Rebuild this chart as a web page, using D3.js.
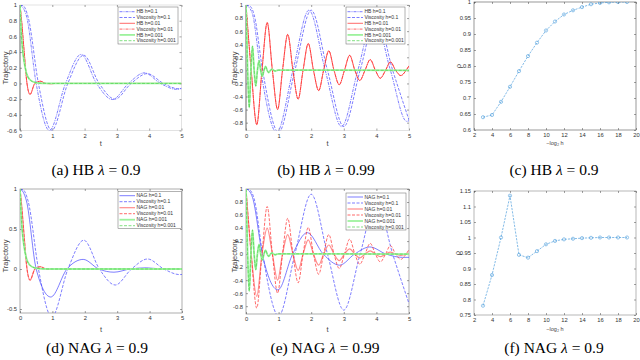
<!DOCTYPE html>
<meta charset="utf-8">
<style>
body { margin: 0; background: #fff; }
.axis text { font: 5.8px "Liberation Sans", Arial, sans-serif; fill: #333; }
.axis-title { font: 7.5px "Liberation Sans", Arial, sans-serif; fill: #444; }
.axis-title.small { font-size: 5.5px; }
.legend-text { font: 5px "Liberation Sans", Arial, sans-serif; fill: #333; }
.caption { font: 15.5px "Liberation Serif", "DejaVu Serif", serif; fill: #000; }
</style>
<body>
<svg id="fig" width="640" height="360"></svg>
<script src="https://cdn.jsdelivr.net/npm/d3@7"></script>
<script>

// ---- data: [t, trajectory] key points ----
var hb09_h1   = [[0,1],[0.1,0.96],[0.2,0.86],[0.5,0],[0.91,-0.6],[1.41,0],[1.89,0.37],[2.37,0],[2.86,-0.205],[3.36,0],[3.85,0.135],[4.35,0],[4.84,-0.075],[5,-0.06]];
var visc09_h1 = [[0,1],[0.1,0.99],[0.25,0.85],[0.57,0],[0.98,-0.6],[1.48,0],[1.97,0.36],[2.45,0],[2.94,-0.2],[3.44,0],[3.94,0.125],[4.44,0],[4.93,-0.07],[5,-0.068]];
var nag09_h1  = [[0,1],[0.1,0.96],[0.2,0.85],[0.5,0],[0.95,-0.35],[1.45,0],[1.95,0.12],[2.43,0],[2.9,-0.04],[3.4,0],[3.9,0.015],[4.4,0],[5,0]];
var visc09_h2 = [[0,1],[0.05,0.8],[0.1,0.55],[0.15,0.3],[0.21,0.02],[0.31,-0.14],[0.46,0],[0.63,0.028],[0.8,0],[0.95,-0.004],[1.1,0],[5,0]];
var visc09_h3 = [[0,1],[0.02,0.8],[0.05,0.58],[0.08,0.43],[0.12,0.3],[0.2,0.13],[0.3,0.05],[0.45,0.015],[0.7,0.002],[1,0],[5,0]];

var hb99_h1   = [[0,1],[0.1,0.96],[0.2,0.86],[0.45,0],[0.94,-0.95],[1.44,0],[1.93,0.92],[2.43,0],[2.93,-0.86],[3.43,0],[3.93,0.83],[4.43,0],[4.93,-0.78],[5,-0.77]];
var visc99_h1 = [[0,1],[0.1,0.99],[0.25,0.85],[0.51,0],[1.0,-0.95],[1.5,0],[2.0,0.92],[2.5,0],[3.0,-0.86],[3.5,0],[4.0,0.82],[4.5,0],[5,-0.76]];
var nag99_h1  = [[0,1],[0.1,0.97],[0.2,0.87],[0.5,0],[0.98,-0.55],[1.43,0],[1.88,0.33],[2.37,0],[2.87,-0.17],[3.33,0],[3.8,0.11],[4.3,0],[4.8,-0.05],[5,-0.05]];
var visc99_h2 = [[0,1],[0.16,0],[0.33,-0.83],[0.49,0],[0.65,0.73],[0.81,0],[0.97,-0.6],[1.12,0],[1.28,0.55],[1.44,0],[1.6,-0.44],[1.75,0],[1.91,0.41],[2.07,0],[2.23,-0.31],[2.38,0],[2.54,0.3],[2.7,0],[2.86,-0.22],[3.02,0],[3.18,0.23],[3.34,0],[3.49,-0.155],[3.65,0],[3.81,0.165],[3.97,0],[4.12,-0.12],[4.28,0],[4.43,0.13],[4.59,0],[4.75,-0.08],[4.91,0],[5,0.07]];
var nag99_h2  = [[0,1],[0.16,0],[0.33,-0.65],[0.49,0],[0.65,0.4],[0.81,0],[0.97,-0.4],[1.12,0],[1.28,0.3],[1.44,0],[1.6,-0.25],[1.75,0],[1.91,0.22],[2.07,0],[2.23,-0.17],[2.38,0],[2.54,0.14],[2.7,0],[2.86,-0.1],[3.02,0],[3.18,0.08],[3.34,0],[3.49,-0.06],[3.65,0],[3.81,0.05],[3.97,0],[4.12,-0.04],[4.28,0],[4.43,0.03],[4.59,0],[4.75,-0.02],[4.91,0],[5,0.01]];
var visc99_h3 = [[0,1],[0.05,0],[0.1,-0.57],[0.15,0],[0.2,0.37],[0.25,0],[0.3,-0.24],[0.35,0],[0.4,0.15],[0.45,0],[0.5,-0.09],[0.55,0],[0.6,0.06],[0.65,0],[0.7,-0.035],[0.75,0],[0.8,0.02],[0.85,0],[0.9,-0.01],[0.95,0],[1.0,0.004],[5,0]];

// rate vs -log2 h
var hExp   = [3,4,5,6,7,8,9,10,11,12,13,14,15,16,17,18,19];
var rhoHB  = [0.64,0.647,0.688,0.735,0.784,0.831,0.873,0.911,0.939,0.961,0.974,0.984,0.993,0.997,0.999,1.0,1.0];
var rhoNAG = [0.78,0.879,1.0,1.135,0.944,0.935,0.956,0.978,0.989,0.994,0.996,0.998,0.999,1.0,1.0,1.0,1.0];

// ticks and labels
var tTicks    = [0,1,2,3,4,5];
var yTicksA   = [-0.6,-0.4,-0.2,0,0.2,0.4,0.6,0.8,1];
var yTicksB   = [-0.8,-0.6,-0.4,-0.2,0,0.2,0.4,0.6,0.8,1];
var yTicksD   = [-0.5,0,0.5,1];
var hTicks    = [2,4,6,8,10,12,14,16,18,20];
var rhoTicksC = [0.6,0.65,0.7,0.75,0.8,0.85,0.9,0.95,1];
var rhoTicksF = [0.75,0.8,0.85,0.9,0.95,1,1.05,1.1,1.15];
var legendHB  = ["HB h=0.1","Viscosity h=0.1","HB h=0.01","Viscosity h=0.01","HB h=0.001","Viscosity h=0.001"];
var legendNAG = ["NAG h=0.1","Viscosity h=0.1","NAG h=0.01","Viscosity h=0.01","NAG h=0.001","Viscosity h=0.001"];
var captions  = [["(a) HB ", " = 0.9"],["(b) HB ", " = 0.99"],["(c) HB ", " = 0.9"],
                 ["(d) NAG ", " = 0.9"],["(e) NAG ", " = 0.99"],["(f) NAG ", " = 0.9"]];

var svg = d3.select("#fig");
var fmt = function(v) { return String(Math.round(v * 100) / 100); };

var BLUE = "#4646ff", RED = "#ff2a2a", GREEN = "#4fd24f", LGREEN = "#9df29d", PINK = "#ff8c8c", RHO = "#4d9ddc";

function drawPanel(p) {
  var g = svg.append("g");
  var x = d3.scaleLinear().domain(p.xDomain).range([p.left, p.right]);
  var y = d3.scaleLinear().domain(p.yDomain).range([p.bottom, p.top]);

  svg.append("clipPath").attr("id", "clip" + p.name)
    .append("rect")
    .attr("x", p.left).attr("y", p.top)
    .attr("width", p.right - p.left).attr("height", p.bottom - p.top);

  g.append("rect")
    .attr("x", p.left).attr("y", p.top)
    .attr("width", p.right - p.left).attr("height", p.bottom - p.top)
    .attr("fill", "none").attr("stroke", p.boxColor).attr("stroke-width", 0.6);
  if (p.leftLine) {
    g.append("line").attr("x1", p.left).attr("x2", p.left).attr("y1", p.top).attr("y2", p.bottom)
      .attr("stroke", "#555").attr("stroke-width", 0.8);
  }

  function style(sel) {
    sel.select(".domain").remove();
    sel.attr("class", "axis").attr("font-size", null).attr("font-family", null);
    sel.selectAll(".tick line").attr("stroke", "#444").attr("stroke-width", 0.5);
  }
  g.append("g").attr("transform", "translate(0," + p.bottom + ")")
    .call(d3.axisBottom(x).tickValues(p.xTicks).tickFormat(fmt).tickSizeInner(-2).tickSizeOuter(0).tickPadding(3.2))
    .call(style);
  g.append("g").attr("transform", "translate(0," + p.top + ")")
    .call(d3.axisTop(x).tickValues(p.xTicks).tickFormat(function() { return ""; }).tickSizeInner(-2).tickSizeOuter(0))
    .call(style);
  g.append("g").attr("transform", "translate(" + p.left + ",0)")
    .call(d3.axisLeft(y).tickValues(p.yTicks).tickFormat(fmt).tickSizeInner(-2).tickSizeOuter(0).tickPadding(3))
    .call(style);
  g.append("g").attr("transform", "translate(" + p.right + ",0)")
    .call(d3.axisRight(y).tickValues(p.yTicks).tickFormat(function() { return ""; }).tickSizeInner(-2).tickSizeOuter(0))
    .call(style);

  var plot = g.append("g").attr("clip-path", "url(#clip" + p.name + ")");

  if (p.series) {
    var line = d3.line()
      .x(function(d) { return x(d[0]); })
      .y(function(d) { return y(d[1]); })
      .curve(d3.curveMonotoneX);
    p.series.forEach(function(s) {
      plot.append("path")
        .datum(s.data)
        .attr("d", line)
        .attr("fill", "none")
        .attr("stroke", s.color)
        .attr("stroke-width", s.width)
        .attr("stroke-dasharray", s.dash || null)
        .attr("stroke-linejoin", "round");
    });
  }

  if (p.rates) {
    var pts = hExp.map(function(h, i) { return [h, p.rates[i]]; });
    plot.append("path")
      .datum(pts)
      .attr("d", d3.line().x(function(d) { return x(d[0]); }).y(function(d) { return y(d[1]); }))
      .attr("fill", "none").attr("stroke", RHO).attr("stroke-width", 0.7)
      .attr("stroke-dasharray", "2.2,1.2");
    plot.selectAll("circle").data(pts).enter().append("circle")
      .attr("cx", function(d) { return x(d[0]); })
      .attr("cy", function(d) { return y(d[1]); })
      .attr("r", 1.6)
      .attr("fill", "none").attr("stroke", RHO).attr("stroke-width", 0.6);
  }

  if (p.legend) {
    var lg = p.legend;
    g.append("rect")
      .attr("x", lg.x).attr("y", lg.y).attr("width", lg.w).attr("height", lg.h)
      .attr("fill", "#fff").attr("stroke", "#666").attr("stroke-width", 0.5);
    lg.labels.forEach(function(lab, i) {
      var s = p.series[i], yy = lg.y + lg.first + i * lg.step;
      g.append("line")
        .attr("x1", lg.x + 1.5).attr("x2", lg.x + 17).attr("y1", yy).attr("y2", yy)
        .attr("stroke", s.color).attr("stroke-width", s.width)
        .attr("stroke-dasharray", s.dash || null);
      g.append("text").attr("class", "legend-text")
        .attr("x", lg.x + 18.5).attr("y", yy).attr("dy", "0.35em")
        .text(lab);
    });
  }

  g.append("text").attr("class", "axis-title")
    .attr("text-anchor", "middle")
    .attr("transform", "translate(" + p.yLabelX + "," + p.yLabelY + ") rotate(-90)")
    .attr("dy", "0.35em")
    .text(p.yLabel);
  g.append("text").attr("class", p.smallX ? "axis-title small" : "axis-title")
    .attr("text-anchor", "middle")
    .attr("x", (p.left + p.right) / 2).attr("y", p.xLabelY)
    .text(p.xLabel);

  var cap = svg.append("text").attr("class", "caption")
    .attr("text-anchor", "middle")
    .attr("x", p.capX).attr("y", p.capY);
  cap.append("tspan").text(p.caption[0]);
  cap.append("tspan").attr("font-style", "italic").text("λ");
  cap.append("tspan").text(p.caption[1]);
}

function trajSeries(method, h1, v1, m2, v2, m3, v3, thickRed) {
  return [
    { data: h1, color: BLUE, width: 0.7, dash: method === "HB" ? "3,1,1,1" : null },
    { data: v1, color: BLUE, width: 0.7, dash: "3,1.5" },
    { data: m2, color: thickRed ? PINK : RED, width: thickRed ? 1.2 : 0.7, dash: null },
    { data: v2, color: RED, width: 0.7, dash: thickRed ? "3,1.5" : "3,1,1,1" },
    { data: m3, color: LGREEN, width: 1.8, dash: null },
    { data: v3, color: GREEN, width: 0.7, dash: "3,1.5" }
  ];
}

drawPanel({
  name: "a", left: 20, right: 181.5, top: 5, bottom: 130.5,
  xDomain: [0, 5], yDomain: [-0.6, 1], xTicks: tTicks, yTicks: yTicksA,
  boxColor: "#cfcfcf", leftLine: true,
  series: trajSeries("HB", hb09_h1, visc09_h1, visc09_h2, visc09_h2, visc09_h3, visc09_h3, false),
  legend: { x: 118, y: 7, w: 60, h: 37, first: 4.7, step: 5.8, labels: legendHB },
  yLabel: "Trajectory", yLabelX: 5, yLabelY: 68, xLabel: "t", xLabelY: 146,
  caption: captions[0], capX: 96, capY: 175
});

drawPanel({
  name: "b", left: 246, right: 409, top: 5, bottom: 130.5,
  xDomain: [0, 5], yDomain: [-0.92, 1], xTicks: tTicks, yTicks: yTicksB,
  boxColor: "#cfcfcf", leftLine: true,
  series: trajSeries("HB", hb99_h1, visc99_h1, visc99_h2, visc99_h2, visc99_h3, visc99_h3, false),
  legend: { x: 346, y: 7, w: 59, h: 37, first: 4.7, step: 5.8, labels: legendHB },
  yLabel: "Trajectory", yLabelX: 234, yLabelY: 68, xLabel: "t", xLabelY: 146,
  caption: captions[1], capX: 326, capY: 175
});

drawPanel({
  name: "c", left: 474, right: 636, top: 2, bottom: 130,
  xDomain: [2, 20], yDomain: [0.6, 1], xTicks: hTicks, yTicks: rhoTicksC,
  boxColor: "#555", rates: rhoHB,
  yLabel: "ρ", yLabelX: 458, yLabelY: 66, xLabel: "−log₂ h", xLabelY: 145, smallX: true,
  caption: captions[2], capX: 554, capY: 175
});

drawPanel({
  name: "d", left: 20, right: 182, top: 189, bottom: 313,
  xDomain: [0, 5], yDomain: [-0.55, 1], xTicks: tTicks, yTicks: yTicksD,
  boxColor: "#777",
  series: trajSeries("NAG", nag09_h1, visc09_h1, visc09_h2, visc09_h2, visc09_h3, visc09_h3, true),
  legend: { x: 118, y: 191.7, w: 63.5, h: 36.6, first: 4, step: 6, labels: legendNAG },
  yLabel: "Trajectory", yLabelX: 5, yLabelY: 256, xLabel: "t", xLabelY: 332,
  caption: captions[3], capX: 97, capY: 353
});

drawPanel({
  name: "e", left: 246, right: 409, top: 189, bottom: 314,
  xDomain: [0, 5], yDomain: [-0.92, 1], xTicks: tTicks, yTicks: yTicksB,
  boxColor: "#777",
  series: trajSeries("NAG", nag99_h1, visc99_h1, nag99_h2, visc99_h2, visc99_h3, visc99_h3, true),
  legend: { x: 346, y: 193, w: 60, h: 37, first: 4, step: 6, labels: legendNAG },
  yLabel: "Trajectory", yLabelX: 234, yLabelY: 256, xLabel: "t", xLabelY: 332,
  caption: captions[4], capX: 325, capY: 353
});

drawPanel({
  name: "f", left: 474, right: 636, top: 191, bottom: 315,
  xDomain: [2, 20], yDomain: [0.75, 1.15], xTicks: hTicks, yTicks: rhoTicksF,
  boxColor: "#888", rates: rhoNAG,
  yLabel: "ρ", yLabelX: 457, yLabelY: 253, xLabel: "−log₂ h", xLabelY: 331, smallX: true,
  caption: captions[5], capX: 554, capY: 353
});

</script>
</body>
